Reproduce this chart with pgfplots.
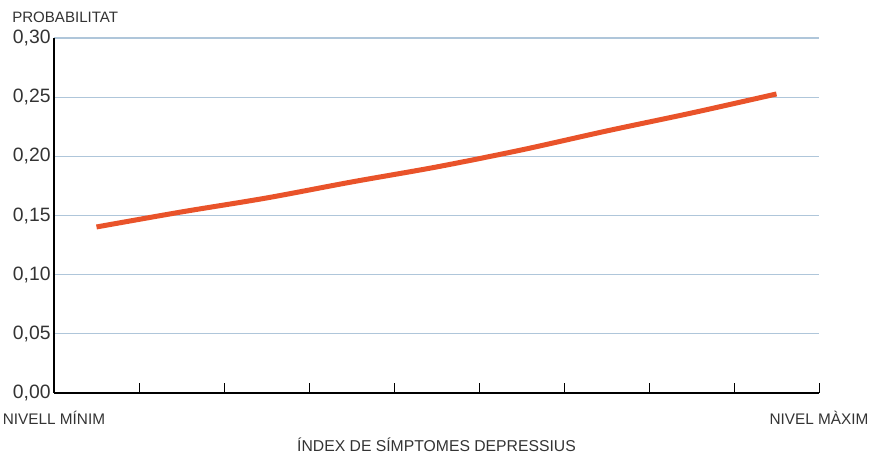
\documentclass[border=0pt]{standalone}
\usepackage{pgfplots}
\pgfplotsset{compat=1.18}
\usepackage{fontspec}
\setmainfont{Liberation Sans}
\definecolor{lineor}{HTML}{E9532A}
\definecolor{gridb}{HTML}{AFC6DA}
\definecolor{txt}{HTML}{333333}
\begin{document}
\begin{tikzpicture}[x=1pt,y=1pt]
\begin{axis}[
  scale only axis,
  width=573.75pt, height=266.25pt,
  xmin=0, xmax=9, ymin=0, ymax=0.30,
  axis x line=bottom, axis y line=left,
  axis line style={-, draw=black, line width=0.8pt},
  xtick={0,...,9},
  xticklabels={NIVELL MÍNIM,,,,,,,,,NIVEL MÀXIM},
  x tick label style={font=\fontsize{11.5}{13}\selectfont, text=txt, yshift=-10pt, inner xsep=0pt},
  major tick length=7.5pt,
  tick align=inside,
  xtick style={draw=black, line width=0.6pt},
  ytick={0,0.05,...,0.30},
  ytick style={draw=none},
  y tick label style={font=\fontsize{14.5}{16}\selectfont, text=txt, xshift=1pt},
  /pgf/number format/.cd, fixed, fixed zerofill, precision=2, use comma, assume math mode=true,
  /pgfplots/.cd,
  ymajorgrids,
  major grid style={draw=gridb, line width=0.8pt},
  xlabel={ÍNDEX DE SÍMPTOMES DEPRESSIUS},
  xlabel style={font=\fontsize{11.8}{13}\selectfont, text=txt, yshift=-3pt},
  clip=false,
]
\addplot[color=lineor, line width=3.75pt, smooth] coordinates {
(0.5,0.1403) (1.5,0.1530) (2.5,0.1648) (3.5,0.1783) (4.5,0.1910)
(5.5,0.2054) (6.5,0.2214) (7.5,0.2366) (8.5,0.2527)
};
\end{axis}
\node[anchor=base west, inner xsep=0pt, font=\fontsize{11.3}{13}\selectfont, text=txt] at ([xshift=-31.5pt, yshift=11.25pt]current axis.north west) {PROBABILITAT};
\path ([xshift=-40.5pt, yshift=-46.5pt]current axis.south west) rectangle ([xshift=37.5pt, yshift=28.5pt]current axis.north east);
\end{tikzpicture}
\end{document}
